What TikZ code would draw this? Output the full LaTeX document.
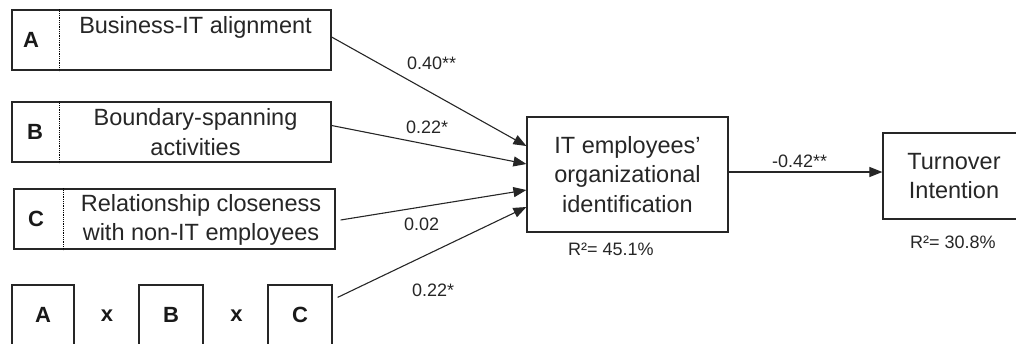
\documentclass[tikz,border=0pt]{standalone}
\usepackage{fontspec}
\setmainfont{Liberation Sans}
\usepackage{tikz}
\usetikzlibrary{
	positioning,
	arrows.meta
}

\tikzset{
	box/.style={draw=black!85,line width=1.2pt,rectangle,inner sep=0pt},
	construct/.style={font=\fontsize{23.5}{29.5}\selectfont,align=center,text=black!85},
	tag/.style={font=\fontsize{22}{26}\selectfont\bfseries,text=black!90},
	coef/.style={font=\fontsize{18}{22}\selectfont,anchor=base west,inner sep=0pt,text=black!85},
	effect/.style={draw=black!85,line width=1.1pt,-{Triangle[length=13pt,width=10pt]}},
	divider/.style={densely dotted,line width=0.8pt}
}

\begin{document}
\begin{tikzpicture}[x=1pt,y=-1pt]
		\useasboundingbox (0,0) rectangle (1016,343);
		\clip (0,0) rectangle (1016,343);

		% antecedents
		\draw
			node [box,minimum width=319pt,minimum height=60pt] (A) at (171.5,40)  {}
			node [box,minimum width=319pt,minimum height=60pt] (B) at (171.5,132) {}
			node [box,minimum width=321pt,minimum height=60pt] (C) at (174.5,219) {}

			node [tag] (Atag) at (31,40)  {A}
			node [tag] (Btag) at (35,132) {B}
			node [tag] (Ctag) at (36,219) {C}

			node [construct,anchor=base] (Atxt) at (195.5,33) {Business-IT alignment}
			node [construct] (Btxt) at (195.5,132) {Boundary-spanning\\activities}
			node [construct] (Ctxt) at (201,220)   {Relationship closeness\\with non-IT employees}

			% interaction term
			node [box,tag,minimum width=62pt,minimum height=60pt] (Ax) at (43,315)  {A}
			node [box,tag,minimum width=64pt,minimum height=60pt] (Bx) at (171,315) {B}
			node [box,tag,minimum width=64pt,minimum height=60pt] (Cx) at (300,315) {C}
			node [tag] (times1) at (107,316)   {x}
			node [tag] (times2) at (236.5,316) {x}

			% outcomes
			node [box,construct,minimum width=201pt,minimum height=115pt] (it) at (627.5,174.5)
				{IT employees’\\organizational\\identification}
			node [box,construct,minimum width=142pt,minimum height=86pt] (to) at (954,176)
				{Turnover\\Intention}

			node [coef] (r2it) at (568,255) {R²= 45.1\%}
			node [coef] (r2to) at (910,248) {R²= 30.8\%}
		;

		\draw [divider] ([xshift=48pt]A.north west) -- ([xshift=48pt]A.south west);
		\draw [divider] ([xshift=48pt]B.north west) -- ([xshift=48pt]B.south west);
		\draw [divider] ([xshift=50pt]C.north west) -- ([xshift=50pt]C.south west);

		% paths
		\coordinate (m) at ([yshift=2.5pt]it.east);
		\draw
			([yshift=3pt]A.east)                  edge [effect] ([yshift=28.5pt]it.west)
			([yshift=6.5pt]B.east)                edge [effect] ([yshift=10.5pt]it.west)
			([xshift=5pt,yshift=-1pt]C.east)      edge [effect] ([yshift=-15.5pt]it.west)
			([xshift=5pt,yshift=-13pt]Cx.north east) edge [effect] ([yshift=-32.5pt]it.west)
			(m)                                   edge [effect] (m -| to.west)
		;

		\draw
			node [coef] (pA)   at (407,69)  {0.40**}
			node [coef] (pB)   at (406,133) {0.22*}
			node [coef] (pC)   at (404,230) {0.02}
			node [coef] (pABC) at (412,296) {0.22*}
			node [coef] (pTO)  at (772,167) {-0.42**}
		;
\end{tikzpicture}
\end{document}
